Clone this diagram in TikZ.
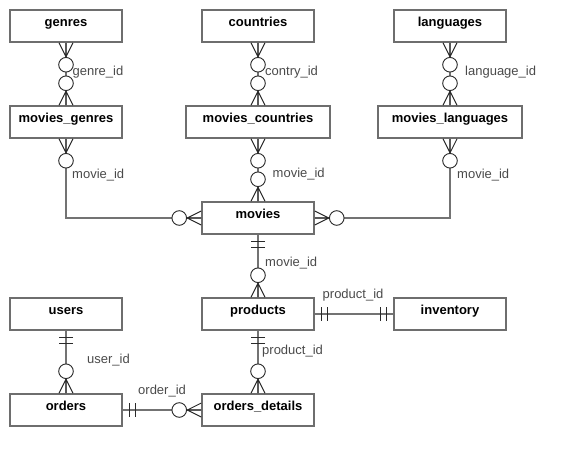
\documentclass[tikz,border=0pt]{standalone}
\usepackage{fontspec}
\setmainfont{Liberation Sans}
\definecolor{boxcol}{HTML}{6E6E6E}
\definecolor{linecol}{HTML}{737373}
\definecolor{mkcol}{HTML}{2A2A2A}
\definecolor{lblcol}{HTML}{4A4A4A}
\begin{document}
\begin{tikzpicture}[x=1pt,y=-1pt,
  tbl/.style={draw=boxcol, line width=1.5pt, fill=white, rectangle,
    minimum width=112pt, minimum height=32pt, inner sep=0pt,
    text height=10pt, text depth=10pt,
    font=\fontsize{13}{15}\selectfont\bfseries},
  conn/.style={draw=linecol, line width=1.4pt},
  mk/.style={draw=mkcol, line width=0.9pt},
  lbl/.style={anchor=west, inner sep=0pt, text=lblcol, font=\fontsize{13}{15}\selectfont},
  ermany/.pic={\draw[mk] (0,7)--(14,0) (0,0)--(14,0) (0,-7)--(14,0);
               \draw[mk,fill=white] (22,0) circle[radius=7.3];},
  erone/.pic={\draw[mk] (6.5,-7)--(6.5,7) (13,-7)--(13,7);}
]
\useasboundingbox (0,0) rectangle (574,466);

% tables
\node[tbl] (genres) at (66,26) {genres};
\node[tbl] (countries) at (258,26) {countries};
\node[tbl] (languages) at (450,26) {languages};
\node[tbl] (mgenres) at (66,122) {movies\_genres};
\node[tbl, minimum width=144pt] (mcountries) at (258,122) {movies\_countries};
\node[tbl, minimum width=144pt] (mlanguages) at (450,122) {movies\_languages};
\node[tbl] (movies) at (258,218) {movies};
\node[tbl] (users) at (66,314) {users};
\node[tbl] (products) at (258,314) {products};
\node[tbl] (inventory) at (450,314) {inventory};
\node[tbl] (orders) at (66,410) {orders};
\node[tbl] (odetails) at (258,410) {orders\_details};

% connectors
\draw[conn] (genres.south) -- (mgenres.north);
\draw[conn] (countries.south) -- (mcountries.north);
\draw[conn] (languages.south) -- (mlanguages.north);
\draw[conn] (mgenres.south) |- (movies.west);
\draw[conn] (mcountries.south) -- (movies.north);
\draw[conn] (mlanguages.south) |- (movies.east);
\draw[conn] (movies.south) -- (products.north);
\draw[conn] (products.east) -- (inventory.west);
\draw[conn] (products.south) -- (odetails.north);
\draw[conn] (users.south) -- (orders.north);
\draw[conn] (orders.east) -- (odetails.west);

% markers
\pic[rotate=-90] at (genres.south) {ermany};
\pic[rotate=90] at (mgenres.north) {ermany};
\pic[rotate=-90] at (countries.south) {ermany};
\pic[rotate=90] at (mcountries.north) {ermany};
\pic[rotate=-90] at (languages.south) {ermany};
\pic[rotate=90] at (mlanguages.north) {ermany};
\pic[rotate=-90] at (mgenres.south) {ermany};
\pic[rotate=180] at (movies.west) {ermany};
\pic[rotate=-90] at (mcountries.south) {ermany};
\pic[rotate=90] at (movies.north) {ermany};
\pic[rotate=-90] at (mlanguages.south) {ermany};
\pic[rotate=0] at (movies.east) {ermany};
\pic[rotate=-90] at (movies.south) {erone};
\pic[rotate=90] at (products.north) {ermany};
\pic[rotate=0] at (products.east) {erone};
\pic[rotate=180] at (inventory.west) {erone};
\pic[rotate=-90] at (products.south) {erone};
\pic[rotate=90] at (odetails.north) {ermany};
\pic[rotate=-90] at (users.south) {erone};
\pic[rotate=90] at (orders.north) {ermany};
\pic[rotate=0] at (orders.east) {erone};
\pic[rotate=180] at (odetails.west) {ermany};

% labels
\node[lbl] (lgenre) at (72.5,72) {genre\_id};
\node[lbl] (lcountry) at (265,72) {contry\_id};
\node[lbl] (llang) at (465,72) {language\_id};
\node[lbl] (lmv1) at (72,175) {movie\_id};
\node[lbl] (lmv2) at (272.5,174.5) {movie\_id};
\node[lbl] (lmv3) at (457,175) {movie\_id};
\node[lbl] (lmv4) at (265,263) {movie\_id};
\node[lbl] (lprod1) at (322.5,295) {product\_id};
\node[lbl] (lprod2) at (262,351.5) {product\_id};
\node[lbl] (luser) at (87,360) {user\_id};
\node[lbl] (lorder) at (138,391.5) {order\_id};
\end{tikzpicture}
\end{document}
